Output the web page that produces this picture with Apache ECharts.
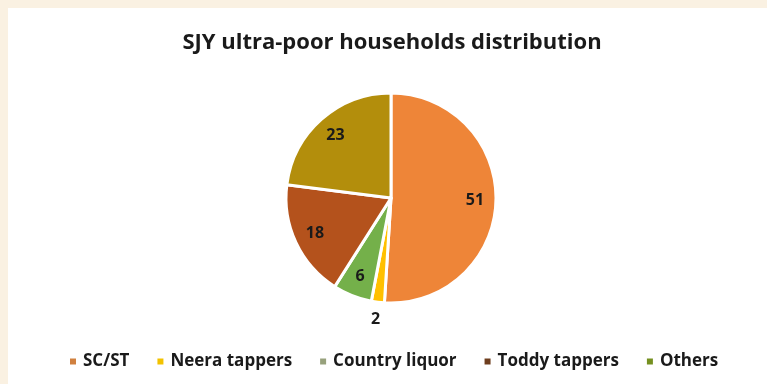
<!DOCTYPE html>
<html>
<head>
<meta charset="utf-8">
<script src="https://cdn.jsdelivr.net/npm/echarts@6/dist/echarts.min.js"></script>
<style>
html,body{margin:0;padding:0;background:#FAF1E2;}
#c{width:767px;height:384px;}
</style>
</head>
<body>
<div id="c"></div>
<script>
const categories = ['SC/ST', 'Neera tappers', 'Country liquor', 'Toddy tappers', 'Others'];
const values = [51, 2, 6, 18, 23];
const sliceColors = ['#EE8538', '#FFC000', '#74B04A', '#B4521C', '#B38E0C'];
const legendColors = ['#D0803F', '#F2C200', '#97A17C', '#6E3E1E', '#759020'];

const chart = echarts.init(document.getElementById('c'));
const font = '"Open Sans", sans-serif';
chart.setOption({
  backgroundColor: '#FAF1E2',
  graphic: [{
    type: 'rect', z: -10, silent: true,
    shape: {x: 8, y: 8, width: 767, height: 384},
    style: {fill: '#FFFFFF'}
  }],
  title: {
    text: 'SJY ultra-poor households distribution',
    left: 387, top: 27, textAlign: 'center',
    textStyle: {fontFamily: font, fontWeight: 'bold', fontSize: 22, color: '#1a1a1a'}
  },
  legend: {
    left: 63, top: 348,
    itemWidth: 8, itemHeight: 8, itemGap: 26,
    icon: 'rect',
    textStyle: {fontFamily: font, fontWeight: 'bold', fontSize: 17, color: '#1a1a1a', padding: [0, 0, 0, 1]},
    data: categories.map((n, i) => ({name: n, itemStyle: {color: legendColors[i]}}))
  },
  series: [{
    type: 'pie',
    center: [391, 198],
    radius: [0, 105],
    startAngle: 90,
    clockwise: true,
    avoidLabelOverlap: false,
    itemStyle: {borderColor: '#fff', borderWidth: 3},
    label: {show: false},
    labelLine: {show: false},
    emphasis: {disabled: true},
    data: categories.map((n, i) => ({name: n, value: values[i], itemStyle: {color: sliceColors[i]}}))
  }, {
    type: 'pie',
    center: [391, 198],
    radius: [0, 162],
    startAngle: 90,
    clockwise: true,
    silent: true,
    avoidLabelOverlap: false,
    itemStyle: {color: 'rgba(0,0,0,0)', borderWidth: 0},
    label: {show: true, position: 'inside', formatter: '{c}',
      fontFamily: font, fontWeight: 'bold', fontSize: 16, color: '#1a1a1a'},
    labelLine: {show: false},
    emphasis: {disabled: true},
    data: categories.map((n, i) => {
      const d = {name: n, value: values[i]};
      if (i === 1) d.label = {offset: [-5, 38]};
      return d;
    })
  }]
});
</script>
</body>
</html>
